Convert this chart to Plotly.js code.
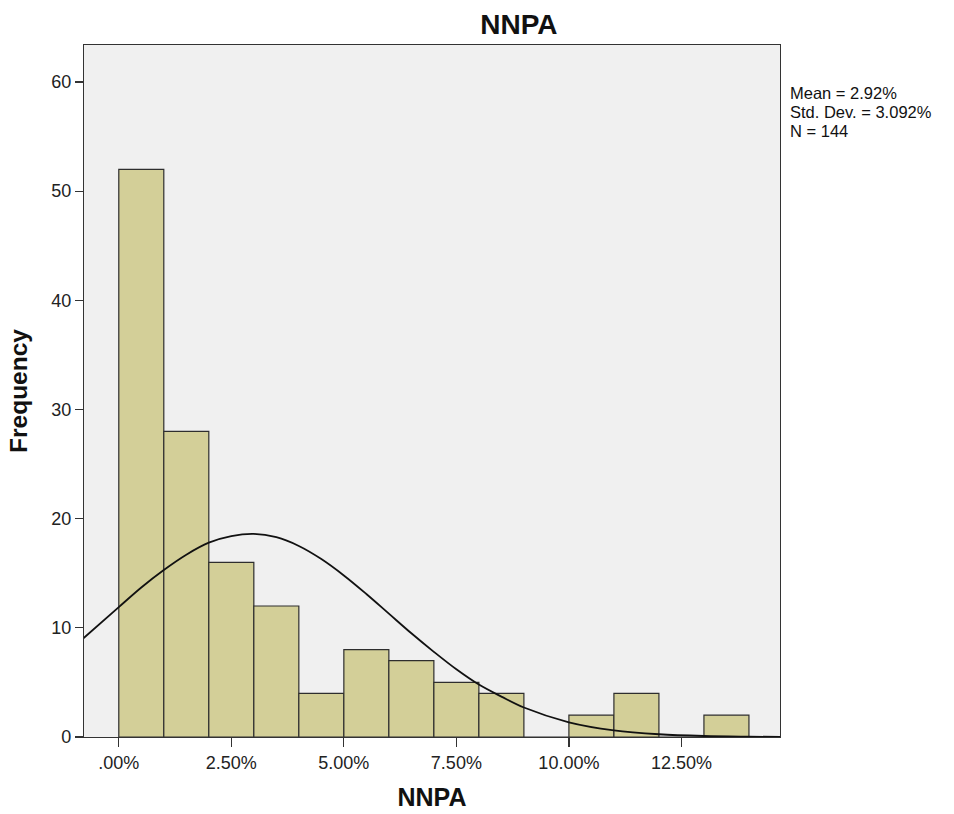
<!DOCTYPE html>
<html>
<head>
<meta charset="utf-8">
<script src="https://cdn.plot.ly/plotly-3.0.1.min.js"></script>
<style>html,body{margin:0;padding:0;background:#fff;}#chart{width:954px;height:814px;}</style>
</head>
<body>
<div id="chart"></div>
<script>
// Histogram bins (lower edge, % units) and frequencies
const binStart = [0, 1, 2, 3, 4, 5, 6, 7, 8, 9, 10, 11, 12, 13];
const counts   = [52, 28, 16, 12, 4, 8, 7, 5, 4, 0, 2, 4, 0, 2];
// Normal curve points
const curveX = [-0.8, 0, 0.5, 1, 1.5, 2, 2.5, 3, 3.5, 4, 4.5, 5, 5.5, 6, 6.5, 7, 7.5, 8, 8.5, 9, 10, 11, 12, 13, 14, 14.7];
const curveY = [9.0, 11.9, 13.7, 15.3, 16.7, 17.8, 18.4, 18.6, 18.3, 17.5, 16.3, 14.8, 13.1, 11.3, 9.5, 7.8, 6.2, 4.8, 3.7, 2.7, 1.35, 0.61, 0.25, 0.09, 0.03, 0.01];
const tickVals = [0, 2.5, 5, 7.5, 10, 12.5];
const tickText = ['.00%', '2.50%', '5.00%', '7.50%', '10.00%', '12.50%'];
const yTickVals = [0, 10, 20, 30, 40, 50, 60];
const statsText = ['Mean = 2.92%', 'Std. Dev. = 3.092%', 'N = 144'];

const font = 'Liberation Sans, Arial, sans-serif';

const bars = {
  type: 'bar',
  x: binStart.map(b => b + 0.5),
  y: counts,
  width: 1,
  marker: { color: '#d3cf98', line: { color: '#2e2e2e', width: 1.2 } },
  hoverinfo: 'x+y',
  showlegend: false
};
const curve = {
  type: 'scatter',
  mode: 'lines',
  x: curveX,
  y: curveY,
  line: { color: '#111', width: 1.8, shape: 'spline', smoothing: 1 },
  showlegend: false
};

const H = 814, MT = 45, MB = 77;
const plotH = H - MT - MB;
const statAnns = statsText.map((t, i) => ({
  xref: 'paper', yref: 'paper',
  x: 1.0115, y: 1 - ((93 + 19 * i) - MT) / plotH,
  xanchor: 'left', yanchor: 'middle', align: 'left',
  text: t, showarrow: false,
  font: { family: font, size: 16.5, color: '#111' }
}));

const layout = {
  width: 954, height: H,
  margin: { l: 84, r: 174, t: MT, b: MB },
  paper_bgcolor: '#ffffff',
  plot_bgcolor: '#f0f0f0',
  font: { family: font, color: '#222', size: 18 },
  title: { text: '<b>NNPA</b>', font: { family: font, size: 28, color: '#111' }, x: 0.544, xanchor: 'center', y: 1 - 24 / H, yanchor: 'middle' },
  bargap: 0,
  xaxis: {
    range: [-0.773, 14.69],
    tickvals: tickVals, ticktext: tickText,
    ticks: 'outside', ticklen: 9, tickcolor: '#333', tickwidth: 1.2,
    showline: true, linecolor: '#333', linewidth: 1.2, mirror: true,
    showgrid: false, zeroline: false,
    tickfont: { family: font, size: 18, color: '#222' },
    title: { text: '<b>NNPA</b>', font: { family: font, size: 25, color: '#111' }, standoff: 16 }
  },
  yaxis: {
    range: [0, 63.39],
    tickvals: yTickVals,
    ticks: 'outside', ticklen: 8, tickcolor: '#333', tickwidth: 1.2,
    showline: true, linecolor: '#333', linewidth: 1.2, mirror: true,
    showgrid: false, zeroline: false,
    tickfont: { family: font, size: 18, color: '#222' },
    title: { text: '<b>Frequency</b>', font: { family: font, size: 24.5, color: '#111' }, standoff: 16 }
  },
  annotations: statAnns
};

Plotly.newPlot('chart', [bars, curve], layout, { displayModeBar: false, staticPlot: true });
</script>
</body>
</html>
